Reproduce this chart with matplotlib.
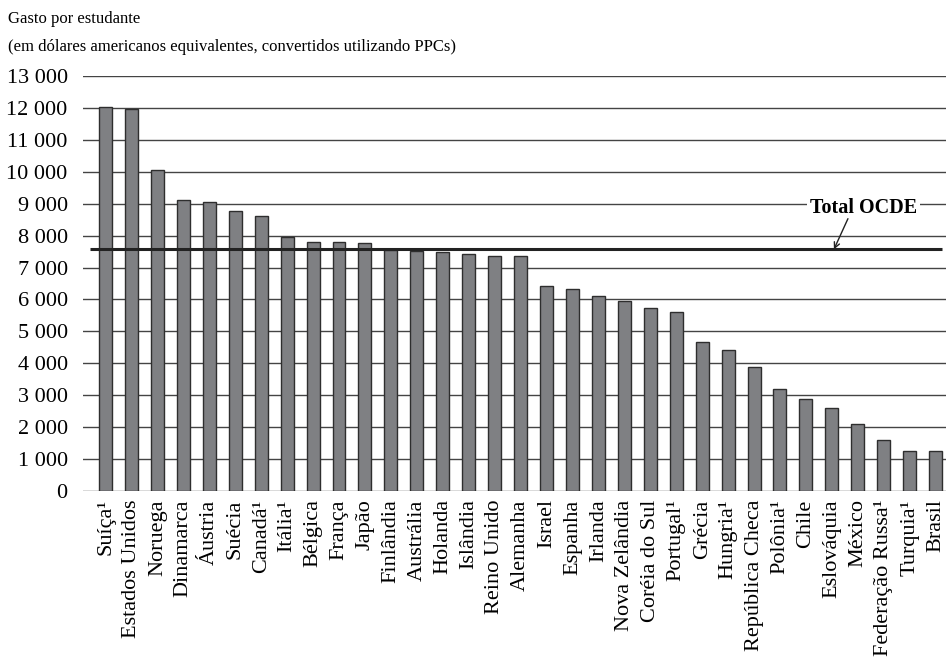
import matplotlib.pyplot as plt

plt.rcParams['font.family'] = ['Liberation Serif', 'DejaVu Serif']

# gasto por estudante, em USD PPC
paises = ['Suíça¹', 'Estados Unidos', 'Noruega', 'Dinamarca', 'Áustria', 'Suécia',
          'Canadá¹', 'Itália¹', 'Bélgica', 'França', 'Japão', 'Finlândia',
          'Austrália', 'Holanda', 'Islândia', 'Reino Unido', 'Alemanha', 'Israel',
          'Espanha', 'Irlanda', 'Nova Zelândia', 'Coréia do Sul', 'Portugal¹',
          'Grécia', 'Hungria¹', 'República Checa', 'Polônia¹', 'Chile',
          'Eslováquia', 'México', 'Federação Russa¹', 'Turquia¹', 'Brasil']
gasto = [12040, 11960, 10070, 9130, 9050, 8770,
         8610, 7950, 7810, 7790, 7760, 7550,
         7530, 7500, 7430, 7370, 7370, 6410,
         6320, 6095, 5940, 5730, 5600,
         4680, 4420, 3880, 3210, 2870,
         2610, 2110, 1590, 1260, 1240]
total_ocde = 7570

yticks = list(range(0, 13001, 1000))
ylabels = ['0'] + ['{} {:03d}'.format(v // 1000, v % 1000) for v in yticks[1:]]

fig = plt.figure(figsize=(9.46, 6.63), dpi=100)
ax = fig.add_axes([0.0877, 0.2594, 0.9123, 0.626])

x = list(range(len(paises)))
ax.bar(x, gasto, width=0.5, color='#7f8083', edgecolor='#2e2e2e', linewidth=1.0, zorder=3)

ax.set_ylim(0, 13000)
ax.set_xlim(-0.87, len(paises) - 0.6)
ax.set_yticks(yticks)
ax.set_yticklabels(ylabels, fontsize=16)
ax.yaxis.grid(True, color='#444444', linewidth=1.0, zorder=1)
ax.set_axisbelow(True)
ax.tick_params(axis='y', length=0, pad=11)
ax.tick_params(axis='x', length=0, pad=6)
ax.set_xticks(x)
ax.set_xticklabels(paises, rotation=90, fontsize=16)
for s in ax.spines.values():
    s.set_visible(False)

# linha da média OCDE
ax.plot([-0.6, len(paises) - 0.75], [total_ocde, total_ocde], color='#222222',
        linewidth=2.2, zorder=4, solid_capstyle='butt')
ax.text(29.22, 8870, 'Total OCDE', fontsize=14.5, fontweight='bold',
        ha='center', va='center', zorder=5,
        bbox=dict(facecolor='white', edgecolor='none', pad=2))
ax.annotate('', xy=(28.08, total_ocde), xytext=(28.62, 8530),
            arrowprops=dict(arrowstyle='->', color='#222222', lw=1.0,
                            shrinkA=0, shrinkB=0), zorder=5)

fig.text(0.008, 0.972, 'Gasto por estudante', fontsize=12, va='center')
fig.text(0.008, 0.929, '(em dólares americanos equivalentes, convertidos utilizando PPCs)',
         fontsize=12, va='center')

fig.savefig('out.png', dpi=100)
